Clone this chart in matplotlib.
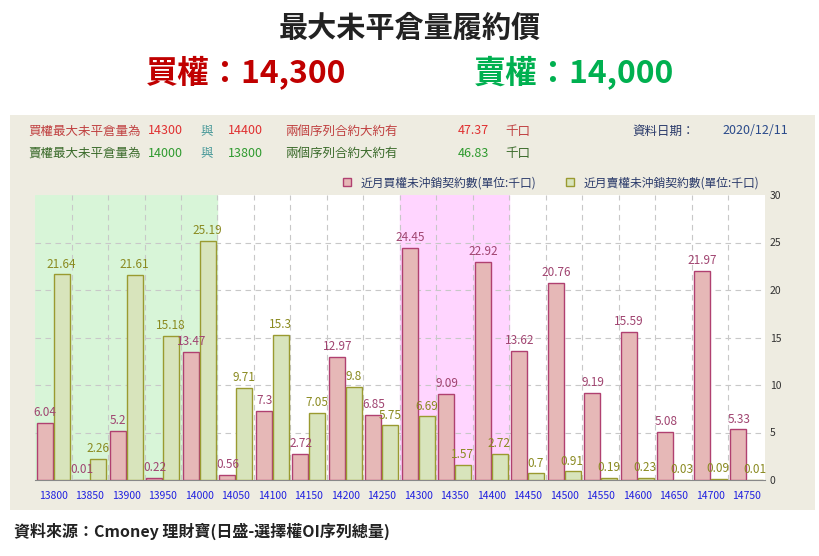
import numpy as np
import matplotlib.pyplot as plt
from matplotlib import font_manager
from matplotlib.patches import Patch

cjk = [f.name for f in font_manager.fontManager.ttflist if "CJK" in f.name]
cjk_pref = sorted(set(cjk), key=lambda s: ("TC" not in s, s))
plt.rcParams["font.family"] = cjk_pref + ["DejaVu Sans"]

strikes = ["13800", "13850", "13900", "13950", "14000", "14050", "14100", "14150",
           "14200", "14250", "14300", "14350", "14400", "14450", "14500", "14550",
           "14600", "14650", "14700", "14750"]
call_oi = [6.04, 0.01, 5.2, 0.22, 13.47, 0.56, 7.3, 2.72, 12.97, 6.85,
           24.45, 9.09, 22.92, 13.62, 20.76, 9.19, 15.59, 5.08, 21.97, 5.33]
put_oi = [21.64, 2.26, 21.61, 15.18, 25.19, 9.71, 15.3, 7.05, 9.8, 5.75,
          6.69, 1.57, 2.72, 0.7, 0.91, 0.19, 0.23, 0.03, 0.09, 0.01]

W, H = 820, 556
fig = plt.figure(figsize=(W / 100, H / 100), dpi=100)
fig.patch.set_facecolor("white")

# beige panel as a background axes
bg = fig.add_axes([10 / W, 1 - 510 / H, 805 / W, 395 / H], zorder=0)
bg.set_facecolor("#EEECE1")
bg.set_xticks([])
bg.set_yticks([])
for s in bg.spines.values():
    s.set_visible(False)

fig.text(0.5, 1 - 28 / H, "最大未平倉量履約價", ha="center", va="center",
         fontsize=21, fontweight="bold", color="#222222")
fig.text(0.30, 1 - 72 / H, "買權：14,300", ha="center", va="center",
         fontsize=23, fontweight="bold", color="#C00000")
fig.text(0.70, 1 - 72 / H, "賣權：14,000", ha="center", va="center",
         fontsize=23, fontweight="bold", color="#00B050")

red, green = "#E03030", "#2E9A2E"
y1, y2 = 1 - 131 / H, 1 - 153 / H
fs = 9
fig.text(28 / W, y1, "買權最大未平倉量為", color="#C04040", fontsize=fs, va="center")
fig.text(148 / W, y1, "14300", color=red, fontsize=fs, va="center")
fig.text(200 / W, y1, "與", color="#4A9A9A", fontsize=fs, va="center")
fig.text(228 / W, y1, "14400", color=red, fontsize=fs, va="center")
fig.text(285 / W, y1, "兩個序列合約大約有", color="#C04040", fontsize=fs, va="center")
fig.text(458 / W, y1, "47.37", color=red, fontsize=fs, va="center")
fig.text(505 / W, y1, "千口", color="#C04040", fontsize=fs, va="center")
fig.text(28 / W, y2, "賣權最大未平倉量為", color="#3A6A2A", fontsize=fs, va="center")
fig.text(148 / W, y2, "14000", color=green, fontsize=fs, va="center")
fig.text(200 / W, y2, "與", color="#4A9A9A", fontsize=fs, va="center")
fig.text(228 / W, y2, "13800", color=green, fontsize=fs, va="center")
fig.text(285 / W, y2, "兩個序列合約大約有", color="#3A6A2A", fontsize=fs, va="center")
fig.text(458 / W, y2, "46.83", color=green, fontsize=fs, va="center")
fig.text(505 / W, y2, "千口", color="#3A6A2A", fontsize=fs, va="center")
fig.text(632 / W, y1, "資料日期：", color="#2A3A6A", fontsize=fs, va="center")
fig.text(722 / W, y1, "2020/12/11", color="#2A4A8A", fontsize=fs, va="center")

fig.text(14 / W, 1 - 531 / H, "資料來源：Cmoney 理財寶(日盛-選擇權OI序列總量)",
         fontsize=11.5, fontweight="bold", color="#222222", va="center")

ax = fig.add_axes([35 / W, 1 - 480 / H, 730 / W, 285 / H], zorder=2)
ax.set_facecolor("white")
n = len(strikes)
x = np.arange(n)
ax.set_xlim(-0.5, n - 0.5)
ax.set_ylim(0, 30)
ax.axvspan(-0.5, 4.5, color="#D8F5D8", zorder=0)
ax.axvspan(9.5, 12.5, color="#FFD5FF", zorder=0)
bw = 0.44
ax.bar(x - bw / 2 - 0.01, call_oi, bw, color="#E6B8B7", edgecolor="#B04070",
       linewidth=1, zorder=3)
ax.bar(x + bw / 2 + 0.01, put_oi, bw, color="#D8E4BC", edgecolor="#9A9A30",
       linewidth=1, zorder=3)
for i in range(n):
    ax.text(x[i] - bw / 2, call_oi[i] + 0.4, f"{call_oi[i]:g}", ha="center",
            va="bottom", fontsize=8.5, color="#A04470", zorder=4)
    ax.text(x[i] + bw / 2, put_oi[i] + 0.4, f"{put_oi[i]:g}", ha="center",
            va="bottom", fontsize=8.5, color="#8A8A20", zorder=4)
for v in np.arange(0.5, n - 0.5):
    ax.axvline(v, color="#C8C8C8", ls=(0, (5, 4)), lw=0.8, zorder=1)
for v in range(5, 30, 5):
    ax.axhline(v, color="#C8C8C8", ls=(0, (5, 4)), lw=0.8, zorder=1)
ax.set_xticks(x)
ax.set_xticklabels(strikes, fontsize=7.5, color="#2020E0")
ax.yaxis.tick_right()
ax.set_yticks(range(0, 31, 5))
ax.tick_params(axis="y", labelsize=7.5, length=0, colors="#333333")
ax.tick_params(axis="x", length=0, pad=8)
for s in ["top", "right", "left"]:
    ax.spines[s].set_visible(False)
ax.spines["bottom"].set_color("#888888")

ax.legend(handles=[Patch(facecolor="#E6B8B7", edgecolor="#B04070", label="近月買權未沖銷契約數(單位:千口)"),
                   Patch(facecolor="#D8E4BC", edgecolor="#9A9A30", label="近月賣權未沖銷契約數(單位:千口)")],
          loc="lower right", bbox_to_anchor=(1.0, 1.0), ncol=2, frameon=False,
          fontsize=8.5, handlelength=0.7, handleheight=0.7, columnspacing=2.5,
          borderaxespad=0.1, labelcolor="#2A3A6A")

fig.savefig("out.png", dpi=100)
